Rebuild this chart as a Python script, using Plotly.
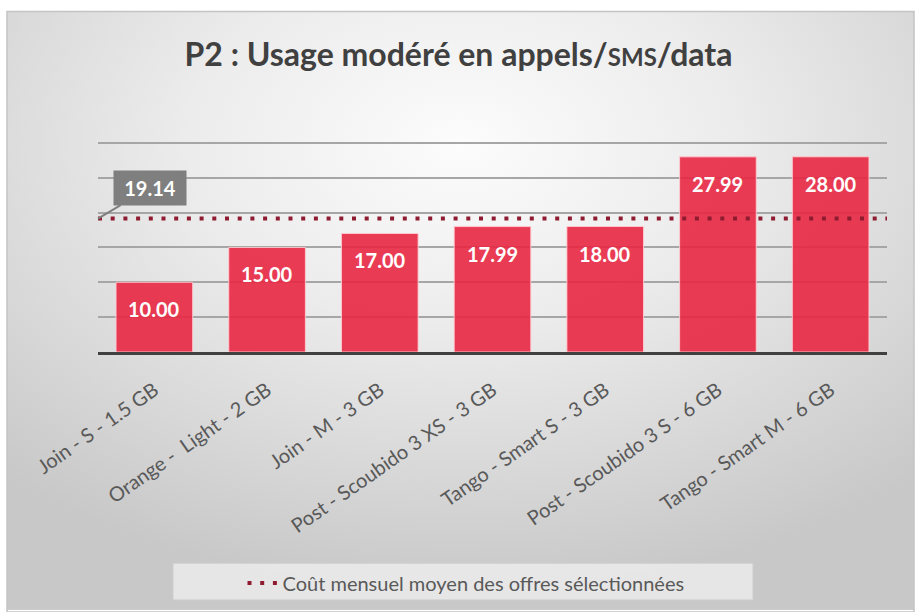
import plotly.graph_objects as go

categories = [
    "Join - S - 1.5 GB",
    "Orange -  Light - 2 GB",
    "Join - M - 3 GB",
    "Post - Scoubido 3 XS - 3 GB",
    "Tango - Smart S - 3 GB",
    "Post - Scoubido 3 S - 6 GB",
    "Tango - Smart M - 6 GB",
]
prices = [10.00, 15.00, 17.00, 17.99, 18.00, 27.99, 28.00]
average_label = "Coût mensuel moyen des offres sélectionnées"
average_value = round(sum(prices) / len(prices), 2)  # 19.14

W, H = 917, 612
ML, MR, MT, MB = 98, 30, 108, 259
PW = W - ML - MR
PH = H - MT - MB


def px_to_paper_x(px):
    return (px - ML) / PW


def px_to_paper_y(py):
    return (H - MB - py) / PH


FONT = "Lato"
xs = list(range(len(categories)))

fig = go.Figure()
fig.add_trace(go.Bar(
    x=xs, y=prices, width=0.68,
    marker=dict(color="rgba(232,40,66,0.9)", line=dict(color="rgba(255,205,212,0.9)", width=1)),
    showlegend=False, hoverinfo="y",
))
fig.add_trace(go.Scatter(
    x=[-0.5, len(categories) - 0.5], y=[average_value, average_value],
    mode="lines", name=average_label,
    line=dict(color="#8E1B30", width=4, dash="4px,8.7px"),
))

annotations = []
for x, v in zip(xs, prices):
    annotations.append(dict(
        x=x, y=v, xref="x", yref="y", text=f"{v:.2f}", showarrow=False,
        yanchor="top", yshift=-13,
        font=dict(family=FONT, size=20, color="white", weight="bold"),
    ))
annotations.append(dict(
    x=-0.5, y=average_value, xref="x", yref="y", text=f"{average_value:.2f}",
    showarrow=True, ax=52, ay=-31, arrowhead=0, arrowwidth=2, arrowcolor="#7F7F7F",
    standoff=0, bgcolor="#7F7F7F", borderpad=4, width=64, height=26,
    font=dict(family=FONT, size=20, color="white", weight="bold"),
))

frame_x0, frame_y0, frame_x1, frame_y1 = 7, 11, 914, 612
bg_svg = (
    "data:image/svg+xml;utf8,"
    "<svg xmlns='http://www.w3.org/2000/svg' width='907' height='601' preserveAspectRatio='none'>"
    "<defs><radialGradient id='g' cx='50%' cy='22%' r='75%'>"
    "<stop offset='0' stop-color='%23fcfcfc'/><stop offset='0.4' stop-color='%23ececec'/>"
    "<stop offset='1' stop-color='%23c8c8c8'/></radialGradient></defs>"
    "<rect width='907' height='601' fill='url(%23g)'/></svg>"
)

fig.update_layout(
    width=W, height=H,
    margin=dict(l=ML, r=MR, t=MT, b=MB),
    paper_bgcolor="white", plot_bgcolor="rgba(0,0,0,0)",
    title=dict(
        text="P2 : Usage modéré en appels/<span style='font-size:24px'>SMS</span>/data",
        x=0.5, xref="container", y=1 - 55 / H, yref="container", yanchor="middle", xanchor="center",
        font=dict(family=FONT, size=32, color="#404040", weight="bold"),
    ),
    xaxis=dict(
        range=[-0.5, len(categories) - 0.5], tickvals=xs, ticktext=categories,
        tickangle=-35, showgrid=False, zeroline=False,
        showline=True, linecolor="#404040", linewidth=3, ticks="",
        ticklabelstandoff=16,
        tickfont=dict(family=FONT, size=20, color="#595959"),
    ),
    yaxis=dict(
        range=[0, 35], dtick=5, showticklabels=False, showgrid=True,
        gridcolor="#A6A6A6", gridwidth=1.5, zeroline=False, showline=False,
    ),
    legend=dict(
        orientation="h", x=px_to_paper_x(466), y=px_to_paper_y(583),
        xanchor="center", yanchor="middle", bgcolor="rgba(0,0,0,0)",
        font=dict(family=FONT, size=20, color="#595959"),
    ),
    annotations=annotations,
    images=[dict(
        source=bg_svg, xref="paper", yref="paper",
        x=px_to_paper_x(frame_x0), y=px_to_paper_y(frame_y0),
        sizex=(frame_x1 - frame_x0) / PW, sizey=(frame_y1 - frame_y0) / PH,
        sizing="stretch", xanchor="left", yanchor="top", layer="below",
    )],
    shapes=[
        dict(type="rect", xref="paper", yref="paper", layer="below",
             x0=px_to_paper_x(frame_x0), x1=px_to_paper_x(frame_x1),
             y0=px_to_paper_y(frame_y1 + 2), y1=px_to_paper_y(frame_y0),
             line=dict(color="#C4C4C4", width=1.5), fillcolor="rgba(0,0,0,0)"),
        dict(type="rect", xref="paper", yref="paper", layer="below",
             x0=px_to_paper_x(173), x1=px_to_paper_x(753),
             y0=px_to_paper_y(602), y1=px_to_paper_y(565),
             line=dict(color="rgba(205,205,205,1)", width=1), fillcolor="rgba(240,240,240,0.75)"),
    ],
    bargap=0.32,
)

fig.write_html(
    "out.html",
    config={"displayModeBar": False},
    post_script="document.body.style.margin='0';",
)
